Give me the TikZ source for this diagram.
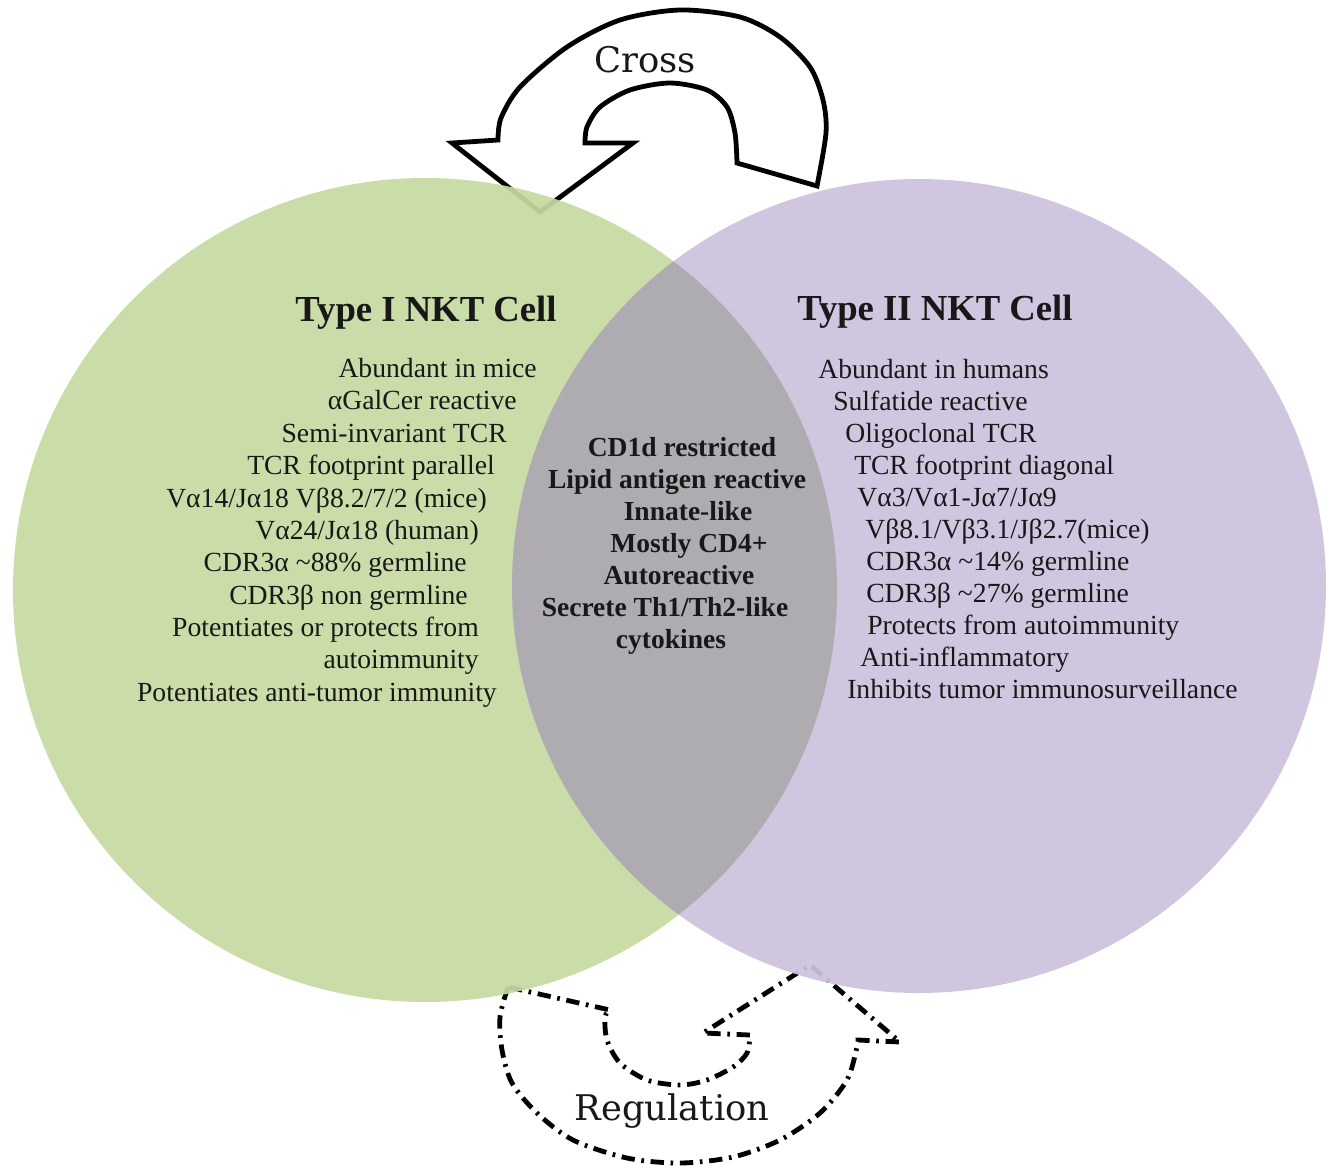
\documentclass[tikz,border=0pt]{standalone}
\usepackage{fontspec}
\setmainfont{Liberation Serif}
\newfontfamily\labelfont{DejaVu Serif}
\definecolor{ink}{RGB}{24,24,24}
\definecolor{gcell}{RGB}{198,218,162}
\definecolor{pcell}{RGB}{205,194,221}
\definecolor{lensc}{RGB}{174,172,176}
\begin{document}
\begin{tikzpicture}[x=0.75pt,y=-0.75pt,
  lst/.style={font=\fontsize{20.75}{24}\selectfont, text=ink, inner sep=0pt},
  lstL/.style={lst, anchor=base east},
  lstR/.style={lst, anchor=base west},
  ctr/.style={lst, font=\fontsize{20.65}{24}\selectfont\bfseries, anchor=base},
  ttl/.style={text=ink, font=\fontsize{27.5}{30}\selectfont\bfseries, inner sep=0pt},
  lbl/.style={text=ink, font=\labelfont\fontsize{26.5}{30}\selectfont, anchor=base, inner sep=0pt},
  crossarrow/.style={draw=black, line width=3.6pt, line join=miter},
  regarrow/.style={draw=black, line width=3.6pt, dash pattern=on 10pt off 5pt on 2pt off 5pt},
  cellI/.style={fill=gcell, fill opacity=0.93},
  cellII/.style={fill=pcell, fill opacity=0.93}]
\useasboundingbox (0,0) rectangle (1334,1171);
\fill[white] (0,0) rectangle (1334,1171);

% Cross arrow
\draw[crossarrow] (737,163)
  -- plot[smooth] coordinates {(737,163) (735,133) (727,107) (707,90) (670,83) (630,90) (600,107) (587,127) (585,143)}
  -- (633,143) -- (540,212) -- (452,143) -- (498,140)
  -- plot[smooth] coordinates {(498,140) (501,118) (520,87) (567,47) (620,20) (680,10) (740,17) (780,37) (810,67) (823,100) (826,133) (817,186)}
  -- cycle;

% Regulation arrow
\draw[regarrow] (508,987)
  -- plot[smooth] coordinates {(508,987) (500,1017) (502,1050) (512,1083) (537,1113) (573,1140) (627,1158) (680,1163) (733,1157) (780,1140) (820,1113) (847,1080) (857,1047) (858,1040)}
  -- (900,1042) -- (810,965) -- (703,1033) -- (750,1035)
  -- plot[smooth] coordinates {(750,1035) (747,1053) (733,1067) (707,1080) (680,1085) (647,1080) (620,1063) (607,1040) (605,1017) (610,1010)}
  -- cycle;

% Circles
\coordinate (cI) at (425,590);
\coordinate (cII) at (919,586);
\fill[cellI] (cI) circle[radius=309pt];
\fill[cellII] (cII) circle[radius=305.25pt];
\begin{scope}
  \clip (cI) circle[radius=309pt];
  \fill[lensc] (cII) circle[radius=305.25pt];
\end{scope}

% Labels of arrows
\node[lbl] (cross) at (645,72) {Cross};
\node[lbl] (regulation) at (672,1120) {Regulation};

% Titles
\node[ttl, anchor=base] (t1) at (426,321) {Type I NKT Cell};
\node[ttl, anchor=base west] (t2) at (797,320) {Type II NKT Cell};

% Type I list
\node[lstL] (a1) at (537,377) {Abundant in mice};
\node[lstL] (a2) at (517,409.5) {αGalCer reactive};
\node[lstL] (a3) at (507,442) {Semi-invariant TCR};
\node[lstL] (a4) at (495,474) {TCR footprint parallel};
\node[lstL] (a5) at (487,507) {Vα14/Jα18 Vβ8.2/7/2 (mice)};
\node[lstL] (a6) at (479,539) {Vα24/Jα18 (human)};
\node[lstL] (a7) at (467,571.5) {CDR3α \textasciitilde88\% germline};
\node[lstL] (a8) at (468,604) {CDR3β non germline};
\node[lstL] (a9) at (479,636) {Potentiates or protects from};
\node[lstL] (a10) at (479,668.5) {autoimmunity};
\node[lstL] (a11) at (497,701) {Potentiates anti-tumor immunity};

% Type II list
\node[lstR] (b1) at (818,378) {Abundant in humans};
\node[lstR] (b2) at (833,410) {Sulfatide reactive};
\node[lstR] (b3) at (845,442) {Oligoclonal TCR};
\node[lstR] (b4) at (854,474) {TCR footprint diagonal};
\node[lstR] (b5) at (857,506) {Vα3/Vα1-Jα7/Jα9};
\node[lstR] (b6) at (865,538) {Vβ8.1/Vβ3.1/Jβ2.7(mice)};
\node[lstR] (b7) at (866,570) {CDR3α \textasciitilde14\% germline};
\node[lstR] (b8) at (866,602) {CDR3β \textasciitilde27\% germline};
\node[lstR] (b9) at (867,634) {Protects from autoimmunity};
\node[lstR] (b10) at (860,666) {Anti-inflammatory};
\node[lstR] (b11) at (847,698) {Inhibits tumor immunosurveillance};

% Shared list
\node[ctr] (c1) at (682,456) {CD1d restricted};
\node[ctr] (c2) at (677,488) {Lipid antigen reactive};
\node[ctr] (c3) at (688,520) {Innate-like};
\node[ctr] (c4) at (689,552) {Mostly CD4+};
\node[ctr] (c5) at (679,584) {Autoreactive};
\node[ctr] (c6) at (665,616) {Secrete Th1/Th2-like};
\node[ctr] (c7) at (671,648) {cytokines};
\end{tikzpicture}
\end{document}
